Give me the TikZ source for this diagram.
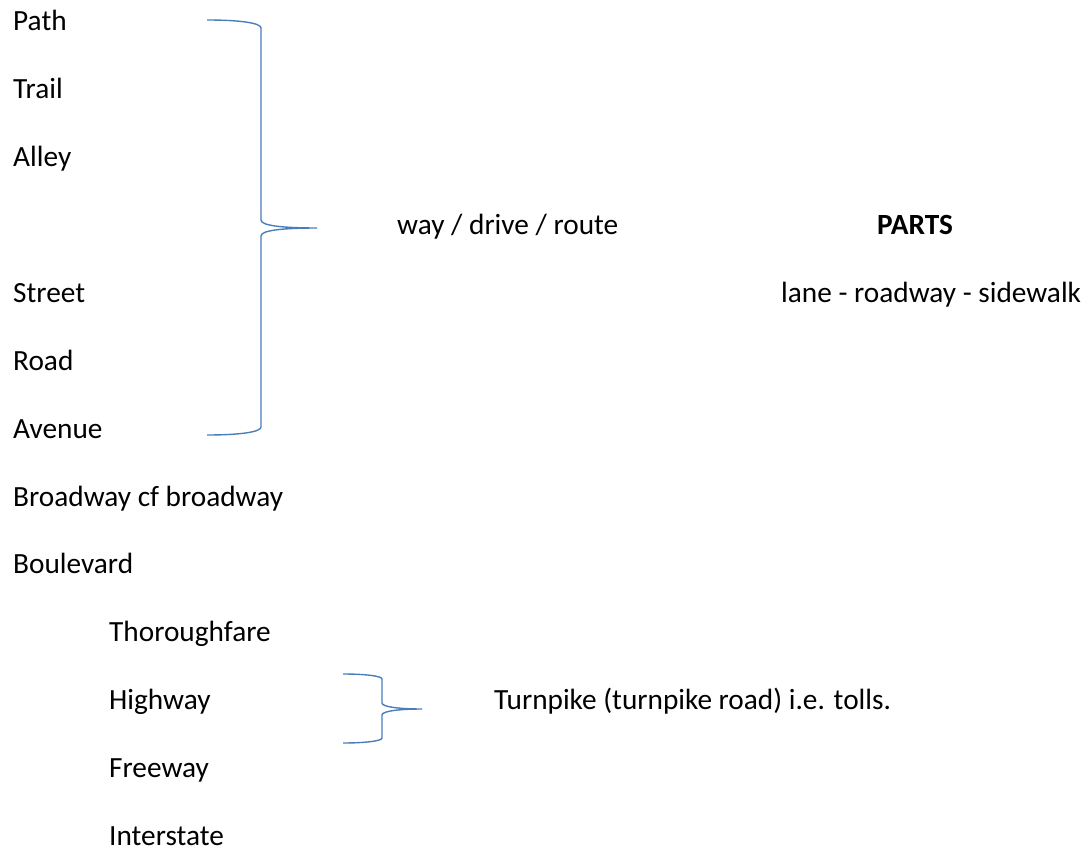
\documentclass[tikz,border=0pt]{standalone}
\usepackage{fontspec}
\setmainfont{Carlito}
\definecolor{bracecol}{HTML}{4A7EBB}
\begin{document}
\begin{tikzpicture}[x=1pt,y=-1pt,
  lbl/.style={anchor=base west,inner sep=0pt,font=\fontsize{29.3}{32}\selectfont},
  bracepath/.style={draw=bracecol,line width=1.4pt}]
\useasboundingbox (0,0) rectangle (1089,850);
\node[lbl] (path) at (13,30.7) {Path};
\node[lbl] (trail) at (13,98.6) {Trail};
\node[lbl] (alley) at (13,166.5) {Alley};
\node[lbl] (way) at (397,234.5) {way / drive / route};
\node[lbl] (parts) at (877,234.5) {\bfseries PARTS};
\node[lbl] (street) at (13,302.3) {Street};
\node[lbl] (lane) at (781,302.3) {lane - roadway - sidewalk};
\node[lbl] (road) at (13,370.2) {Road};
\node[lbl] (avenue) at (13,438.1) {Avenue};
\node[lbl] (broadway) at (13,506) {Broadway cf broadway};
\node[lbl] (boulevard) at (13,573.9) {Boulevard};
\node[lbl] (thorough) at (109,641.8) {Thoroughfare};
\node[lbl] (highway) at (109,709.7) {Highway};
\node[lbl] (turnpike) at (494,709.7) {Turnpike (turnpike road) i.e. tolls.};
\node[lbl] (freeway) at (109,777.6) {Freeway};
\node[lbl] (interstate) at (109,845.3) {Interstate};
% big brace
\path[bracepath] (207,20) .. controls (240,20) and (261,23) .. (261,28)
  -- (261,220) .. controls (261,226) and (285,228) .. (317,228)
  .. controls (285,228) and (261,230) .. (261,236)
  -- (261,427) .. controls (261,432) and (240,435) .. (207,435);
% small brace
\path[bracepath] (343,674) .. controls (365,674) and (382,676) .. (382,679)
  -- (382,703) .. controls (382,707) and (400,709) .. (422,709)
  .. controls (400,709) and (382,711) .. (382,715)
  -- (382,738) .. controls (382,741) and (365,743) .. (343,743);
\end{tikzpicture}
\end{document}
